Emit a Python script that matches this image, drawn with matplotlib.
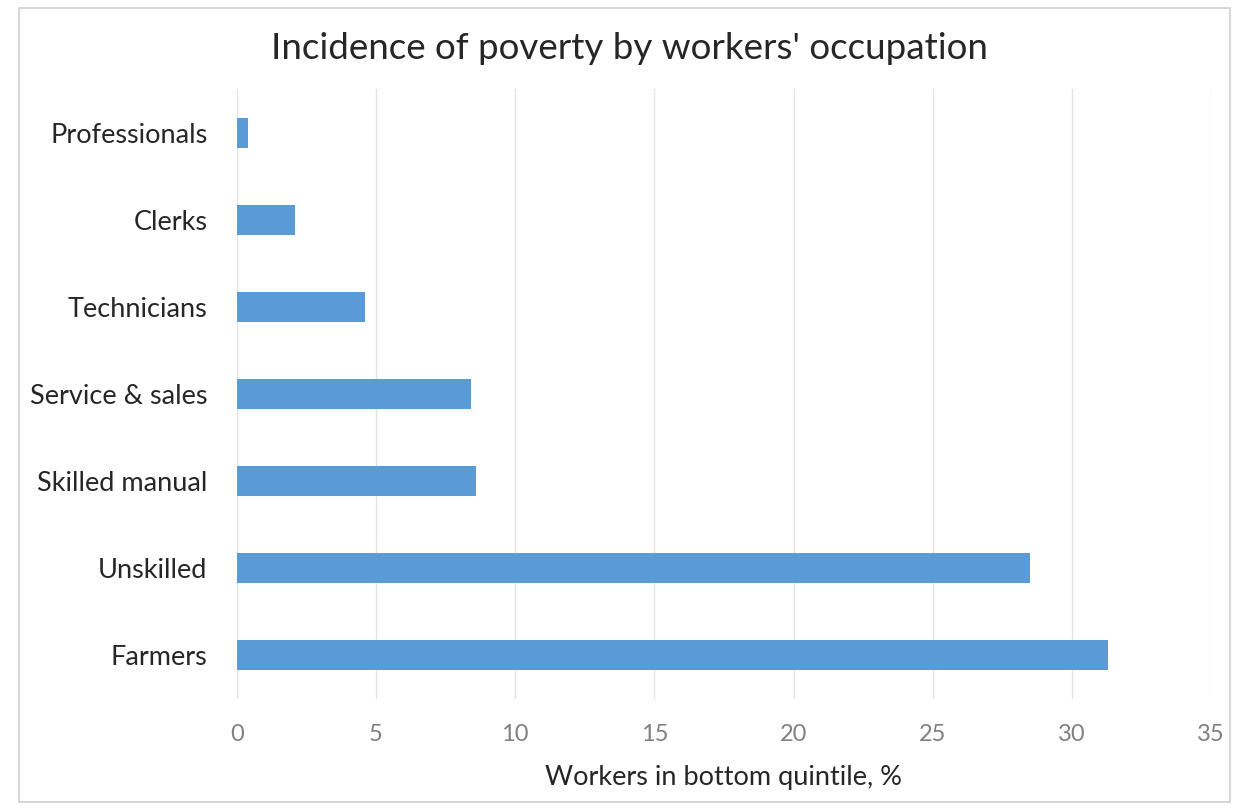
import matplotlib
matplotlib.use("Agg")
import matplotlib.pyplot as plt
from matplotlib.patches import Rectangle

occupations = ["Professionals", "Clerks", "Technicians", "Service & sales",
               "Skilled manual", "Unskilled", "Farmers"]
share_bottom = [0.4, 2.1, 4.6, 8.4, 8.6, 28.5, 31.3]
x_ticks = [0, 5, 10, 15, 20, 25, 30, 35]

plt.rcParams['font.family'] = ['Lato', 'DejaVu Sans']

fig = plt.figure(figsize=(12.46, 8.08), dpi=100)
ax = fig.add_axes([0.190, 0.1355, 0.782, 0.754])

pos = list(range(len(occupations)))
ax.barh(pos, share_bottom, height=0.35, color="#5B9BD5", zorder=3)
ax.set_ylim(len(occupations) - 0.5, -0.5)
ax.set_yticks(pos)
ax.set_yticklabels(occupations, fontsize=19.5, color="#262626")
ax.set_xlim(0, 35)
ax.set_xticks(x_ticks)
ax.set_xticklabels([str(t) for t in x_ticks], fontsize=17, color="#808080")
ax.tick_params(axis="y", length=0, pad=21)
ax.tick_params(axis="x", length=0, pad=18)
ax.grid(axis="x", color="#e3e3e3", linewidth=1, zorder=0)
for s in ax.spines.values():
    s.set_visible(False)

ax.set_xlabel("Workers in bottom quintile, %", fontsize=19.5, color="#262626", labelpad=15)
fig.text(0.505, 0.94, "Incidence of poverty by workers' occupation",
         ha="center", va="center", fontsize=26.5, color="#262626")

# outer frame of the chart area
fig.patches.append(Rectangle((0.015, 0.008), 0.972, 0.982, transform=fig.transFigure,
                             fill=False, edgecolor="#d0d0d0", linewidth=1.2))

plt.savefig("out.png", dpi=100)
